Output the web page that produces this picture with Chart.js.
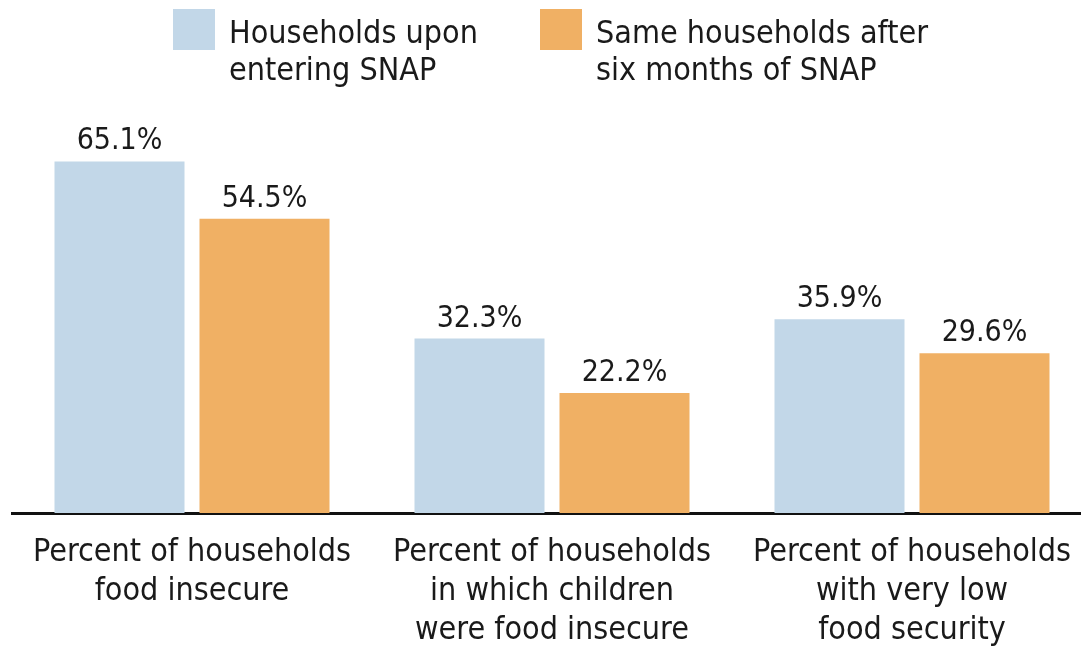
<!DOCTYPE html>
<html>
<head>
<meta charset="utf-8">
<script src="https://cdn.jsdelivr.net/npm/chart.js@4/dist/chart.umd.min.js"></script>
<style>
  html, body { margin: 0; padding: 0; background: #fff; overflow: hidden; }
  #wrap { width: 1092px; height: 647px; }
</style>
</head>
<body>
<div id="wrap"><canvas id="snapChart" width="1092" height="647"></canvas></div>
<script>
// chart data
var categories = [
    ['Percent of households', 'food insecure'],
    ['Percent of households', 'in which children', 'were food insecure'],
    ['Percent of households', 'with very low', 'food security']
];
var seriesNames = [
    ['Households upon', 'entering SNAP'],
    ['Same households after', 'six months of SNAP']
];
var enteringSnap = [65.1, 32.3, 35.9];
var afterSixMonths = [54.5, 22.2, 29.6];

var FONT = '"DejaVu Sans Condensed", "DejaVu Sans", sans-serif';
var colors = ['#c2d7e8', '#f0b064'];

// value labels above each bar
var valueLabels = {
    id: 'valueLabels',
    afterDatasetsDraw: function (chart) {
        var ctx = chart.ctx;
        ctx.save();
        ctx.font = '30px ' + FONT;
        ctx.fillStyle = '#1a1a1a';
        ctx.textAlign = 'center';
        ctx.textBaseline = 'alphabetic';
        chart.data.datasets.forEach(function (ds, i) {
            chart.getDatasetMeta(i).data.forEach(function (bar, j) {
                ctx.fillText(ds.data[j].toFixed(1) + '%', bar.x, bar.y - 12);
            });
        });
        ctx.restore();
    }
};

// two-line legend at top
var topLegend = {
    id: 'topLegend',
    afterDraw: function (chart) {
        var ctx = chart.ctx;
        var starts = [173, 540];
        ctx.save();
        ctx.font = '32px ' + FONT;
        ctx.textBaseline = 'alphabetic';
        chart.data.datasets.forEach(function (ds, i) {
            var x = starts[i];
            ctx.fillStyle = ds.backgroundColor;
            ctx.fillRect(x, 9, 42, 41);
            ctx.fillStyle = '#1a1a1a';
            ds.label.forEach(function (line, k) {
                ctx.fillText(line, x + 56, 43 + k * 37);
            });
        });
        ctx.restore();
    }
};

new Chart(document.getElementById('snapChart'), {
    type: 'bar',
    data: {
        labels: categories,
        datasets: [
            { label: seriesNames[0], data: enteringSnap, backgroundColor: colors[0] },
            { label: seriesNames[1], data: afterSixMonths, backgroundColor: colors[1] }
        ]
    },
    options: {
        responsive: false,
        animation: false,
        layout: { padding: { top: 135, left: 12, right: 0, bottom: 0 } },
        datasets: { bar: { categoryPercentage: 0.8056, barPercentage: 0.8966 } },
        plugins: {
            legend: { display: false },
            tooltip: { enabled: false }
        },
        scales: {
            x: {
                grid: { display: false, drawTicks: false },
                border: { display: true, color: '#111', width: 3 },
                ticks: {
                    color: '#1a1a1a',
                    font: { family: FONT, size: 32, lineHeight: 1.22 },
                    padding: 20,
                    maxRotation: 0,
                    autoSkip: false
                },
                afterFit: function (scale) { scale.height = 134; }
            },
            y: {
                display: false,
                min: 0,
                max: 70
            }
        }
    },
    plugins: [valueLabels, topLegend]
});
</script>
</body>
</html>
